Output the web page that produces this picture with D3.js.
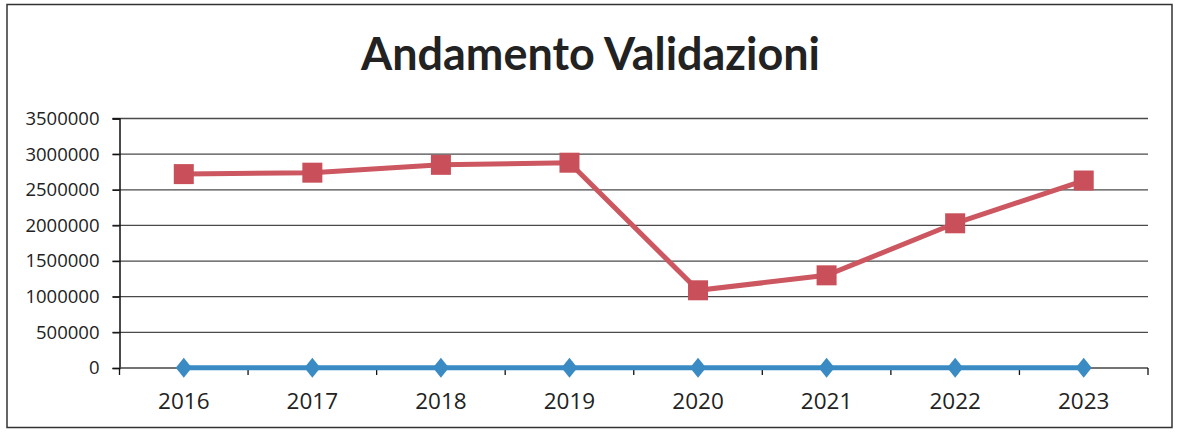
<!DOCTYPE html>
<html><head><meta charset="utf-8">
<script src="https://cdn.jsdelivr.net/npm/d3@7"></script>
<style>body{margin:0;background:#fff}svg{display:block}</style>
</head><body>
<svg id="c" width="1181" height="432"></svg>
<script>
const title = "Andamento Validazioni";
const years = ["2016","2017","2018","2019","2020","2021","2022","2023"];
const validazioni = [2720000, 2740000, 2850000, 2880000, 1090000, 1300000, 2030000, 2630000];
const serieBlu = [5000, 5000, 5000, 5000, 5000, 5000, 5000, 5000];
const yTicks = [0, 500000, 1000000, 1500000, 2000000, 2500000, 3000000, 3500000];

const svg = d3.select("#c");
const m = {left: 119.5, right: 1148, top: 118.5, bottom: 368};

svg.append("rect").attr("x",7).attr("y",4.5).attr("width",1165).attr("height",423)
  .attr("fill","#fff").attr("stroke","#333").attr("stroke-width",1.5);

const x = d3.scaleBand().domain(years).range([m.left, m.right]).padding(0);
const y = d3.scaleLinear().domain([0, 3500000]).range([m.bottom, m.top]);

// gridlines
svg.append("g").selectAll("line").data(yTicks.filter(d=>d>0)).join("line")
  .attr("x1", m.left-7).attr("x2", m.right).attr("y1", d=>y(d)).attr("y2", d=>y(d))
  .attr("stroke","#4a4a4a").attr("stroke-width",1.3);

// y axis
const ya = svg.append("g").attr("transform",`translate(${m.left},0)`)
  .call(d3.axisLeft(y).tickValues(yTicks).tickFormat(d3.format("d")).tickSize(7).tickPadding(13));
ya.select(".domain").attr("stroke","#111").attr("stroke-width",1.5);
ya.selectAll(".tick line").attr("stroke","#111").attr("stroke-width",1.3);
ya.selectAll("text").attr("font-family","'Open Sans', sans-serif").attr("font-size",18.5).attr("fill","#222");

// x axis
const xa = svg.append("g").attr("transform",`translate(0,${m.bottom})`);
xa.append("line").attr("x1",m.left).attr("x2",m.right).attr("stroke","#444").attr("stroke-width",1.5);
const bounds = years.map(d=>x(d)).concat([m.right]);
xa.selectAll(".tk").data(bounds).join("line").attr("class","tk")
  .attr("x1",d=>d).attr("x2",d=>d).attr("y1",0).attr("y2",7).attr("stroke","#111").attr("stroke-width",1.3);
xa.selectAll("text").data(years).join("text")
  .attr("x",d=>x(d)+x.bandwidth()/2).attr("y",41).attr("text-anchor","middle")
  .attr("font-family","'Open Sans', sans-serif").attr("font-size",22.5).attr("fill","#222").text(d=>d);

const cx = d => x(d)+x.bandwidth()/2;
const line = d3.line().x(d=>cx(d.k)).y(d=>y(d.v));

// blue series
const blu = years.map((k,i)=>({k, v: serieBlu[i]}));
svg.append("path").datum(blu).attr("d",line).attr("fill","none").attr("stroke","#3a8bc4").attr("stroke-width",5);
svg.append("g").selectAll("path").data(blu).join("path")
  .attr("transform",d=>`translate(${cx(d.k)},${y(d.v)})`)
  .attr("d","M0,-10L8,0L0,10L-8,0Z").attr("fill","#3a8bc4");

// red series
const red = years.map((k,i)=>({k, v: validazioni[i]}));
svg.append("path").datum(red).attr("d",line).attr("fill","none").attr("stroke","#cc5760").attr("stroke-width",5);
svg.append("g").selectAll("rect").data(red).join("rect")
  .attr("x",d=>cx(d.k)-10).attr("y",d=>y(d.v)-10).attr("width",20).attr("height",20)
  .attr("fill","#c9505a");

// title
const t = svg.append("text").attr("x",(361+820)/2).attr("y",70).attr("text-anchor","middle")
  .attr("font-family","Lato, sans-serif").attr("font-weight","bold").attr("font-size",40)
  .attr("fill","#222").text(title);
const len = t.node().getComputedTextLength();
t.attr("font-size", 40*459/len);
</script>
</body></html>
